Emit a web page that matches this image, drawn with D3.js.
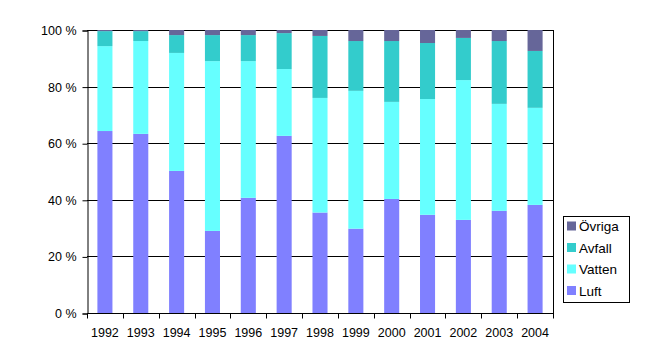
<!DOCTYPE html>
<html>
<head>
<meta charset="utf-8">
<script src="https://cdn.jsdelivr.net/npm/d3@7"></script>
<style>
  body { margin: 0; background: #fff; }
  text { font-family: "Liberation Sans", Arial, sans-serif; font-size: 12px; fill: #000; }
</style>
</head>
<body>
<svg id="chart" width="654" height="362"></svg>
<script>
const years = ["1992", "1993", "1994", "1995", "1996", "1997", "1998", "1999", "2000", "2001", "2002", "2003", "2004"];
const luft = [64.3, 63.3, 50.2, 29.0, 40.7, 62.6, 35.5, 29.8, 40.3, 34.7, 32.9, 36.1, 38.2];
const vatten = [30.0, 32.8, 41.7, 60.0, 48.3, 23.6, 40.5, 48.7, 34.3, 40.9, 49.4, 37.8, 34.3];
const avfall = [5.3, 3.5, 6.3, 9.2, 9.2, 12.7, 21.9, 17.6, 21.5, 19.8, 14.9, 22.2, 20.1];
const ovriga = [0.4, 0.4, 1.8, 1.8, 1.8, 1.1, 2.1, 3.9, 3.9, 4.6, 2.8, 3.9, 7.4];
const seriesNames = ["Luft", "Vatten", "Avfall", "Övriga"];
const seriesColors = ["#8080ff", "#66ffff", "#33cccc", "#666699"];
const yTicks = [0, 20, 40, 60, 80, 100];

const svg = d3.select("#chart");
const plot = { left: 87, top: 30, right: 553, bottom: 313 };

const table = years.map((y, i) => ({
  year: y, Luft: luft[i], Vatten: vatten[i], "Avfall": avfall[i], "Övriga": ovriga[i]
}));
// normalize to 100 %
table.forEach(d => {
  const sum = seriesNames.reduce((s, k) => s + d[k], 0);
  seriesNames.forEach(k => d[k] = d[k] / sum * 100);
});
const stacked = d3.stack().keys(seriesNames)(table);

const x = d3.scaleBand().domain(years).range([plot.left, plot.right]).paddingInner(0.58).paddingOuter(0.29);
const xBand = d3.scaleBand().domain(years).range([plot.left, plot.right]);
const y = d3.scaleLinear().domain([0, 100]).range([plot.bottom, plot.top]);

// gridlines
svg.append("g")
  .selectAll("line")
  .data(yTicks)
  .join("line")
  .attr("x1", plot.left).attr("x2", plot.right)
  .attr("y1", d => Math.round(y(d)) + 0.5).attr("y2", d => Math.round(y(d)) + 0.5)
  .attr("stroke", "#000").attr("stroke-width", 1);

// bars
svg.append("g")
  .selectAll("g")
  .data(stacked)
  .join("g")
  .attr("fill", (d, i) => seriesColors[i])
  .selectAll("rect")
  .data(d => d)
  .join("rect")
  .attr("x", d => x(d.data.year))
  .attr("width", x.bandwidth())
  .attr("y", d => y(d[1]))
  .attr("height", d => y(d[0]) - y(d[1]));

// right border
svg.append("line")
  .attr("x1", plot.right + 0.5).attr("x2", plot.right + 0.5)
  .attr("y1", plot.top).attr("y2", plot.bottom)
  .attr("stroke", "#000");

// y axis
const yAxis = svg.append("g")
  .attr("transform", "translate(" + (plot.left + 0.5) + ",0.5)")
  .call(d3.axisLeft(y).tickValues(yTicks).tickSize(5).tickPadding(6).tickFormat(d => d + " %"));
yAxis.select(".domain").attr("stroke", "#000");
yAxis.selectAll("text").style("font-size", "12.5px").style("font-family", "Liberation Sans, Arial, sans-serif");

// x axis, ticks between categories
const xg = svg.append("g").attr("transform", "translate(0," + (Math.round(plot.bottom) + 0.5) + ")");
xg.append("line").attr("x1", plot.left).attr("x2", plot.right + 1).attr("stroke", "#000");
xg.selectAll("line.tick")
  .data(years.concat(["end"]))
  .join("line")
  .attr("class", "tick")
  .attr("x1", (d, i) => Math.round(plot.left + i * xBand.step()) + 0.5)
  .attr("x2", (d, i) => Math.round(plot.left + i * xBand.step()) + 0.5)
  .attr("y1", 0).attr("y2", 5)
  .attr("stroke", "#000");
xg.selectAll("text")
  .data(years)
  .join("text")
  .attr("x", d => xBand(d) + xBand.bandwidth() / 2)
  .attr("y", 23)
  .attr("text-anchor", "middle")
  .style("font-size", "12.5px")
  .text(d => d);

// legend
const legend = svg.append("g").attr("transform", "translate(563,216)");
legend.append("rect")
  .attr("x", 0.5).attr("y", 0.5).attr("width", 66).attr("height", 86)
  .attr("fill", "#fff").attr("stroke", "#000");
const legendOrder = seriesNames.map((n, i) => i).reverse();
const items = legend.selectAll("g.item")
  .data(legendOrder)
  .join("g")
  .attr("class", "item")
  .attr("transform", (d, i) => "translate(0," + (10 + i * 21.5) + ")");
items.append("rect")
  .attr("x", 4).attr("y", -4.5).attr("width", 9).attr("height", 9)
  .attr("fill", d => seriesColors[d]);
items.append("text")
  .attr("x", 16).attr("y", 5)
  .style("font-size", "13.5px")
  .text(d => seriesNames[d]);
</script>
</body>
</html>
